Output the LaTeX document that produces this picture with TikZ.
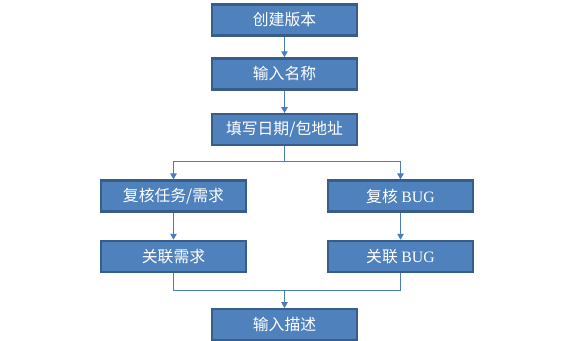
\documentclass[tikz,border=0pt]{standalone}
\usepackage{fontspec}
\setmainfont{Liberation Serif}
\newfontfamily\cjk{Noto Sans CJK SC}
\usepackage{xcolor}
\usepackage{tikz}
\usetikzlibrary{arrows.meta, positioning, calc}

\definecolor{boxfill}{HTML}{4F81BD}
\definecolor{boxline}{HTML}{385D8A}
\definecolor{linkline}{HTML}{4A7EBB}

\begin{document}
\begin{tikzpicture}
\tikzstyle{stepbox} = [rectangle, minimum width=4.35cm, minimum height=0.93cm, text centered, draw=boxline, line width=2pt, fill=boxfill, text=white, font=\cjk\fontsize{13.5}{15}\selectfont]
\tikzstyle{arrow} = [linkline, line width=0.8pt, -{Triangle[width=5.5pt,length=5pt]}]
\tikzstyle{link} = [linkline, line width=0.8pt]

\useasboundingbox (0,0) rectangle (17.28,-10.23);

% Main line
\node (create) [stepbox] at (8.535,-0.6) {创建版本};
\node (name) [stepbox, below=0.615cm of create] {输入名称};
\node (date) [stepbox, below=0.675cm of name] {填写日期/包地址};

% Two branches
\node (task) [stepbox, below=0.99cm of date, xshift=-3.33cm] {复核任务/需求};
\node (bug) [stepbox, below=0.99cm of date, xshift=3.48cm] {复核 {\rmfamily BUG}};
\node (linktask) [stepbox, below=0.81cm of task] {关联需求};
\node (linkbug) [stepbox, below=0.81cm of bug] {关联 {\rmfamily BUG}};
\node (desc) [stepbox, below=1.05cm of linktask, xshift=3.33cm] {输入描述};

% Connections
\draw [arrow] (create) -- (name);
\draw [arrow] (name) -- (date);
\draw [arrow] (date.south) -- ++(0,-0.45) -| (task.north);
\draw [arrow] (date.south) -- ++(0,-0.45) -| (bug.north);
\draw [arrow] (task) -- (linktask);
\draw [arrow] (bug) -- (linkbug);
\coordinate (merge) at ($(linktask.south)+(0,-0.52)$);
\draw [link] (linktask.south) -- (merge) -| (linkbug.south);
\draw [arrow] (desc.north |- merge) -- (desc.north);

\end{tikzpicture}
\end{document}
